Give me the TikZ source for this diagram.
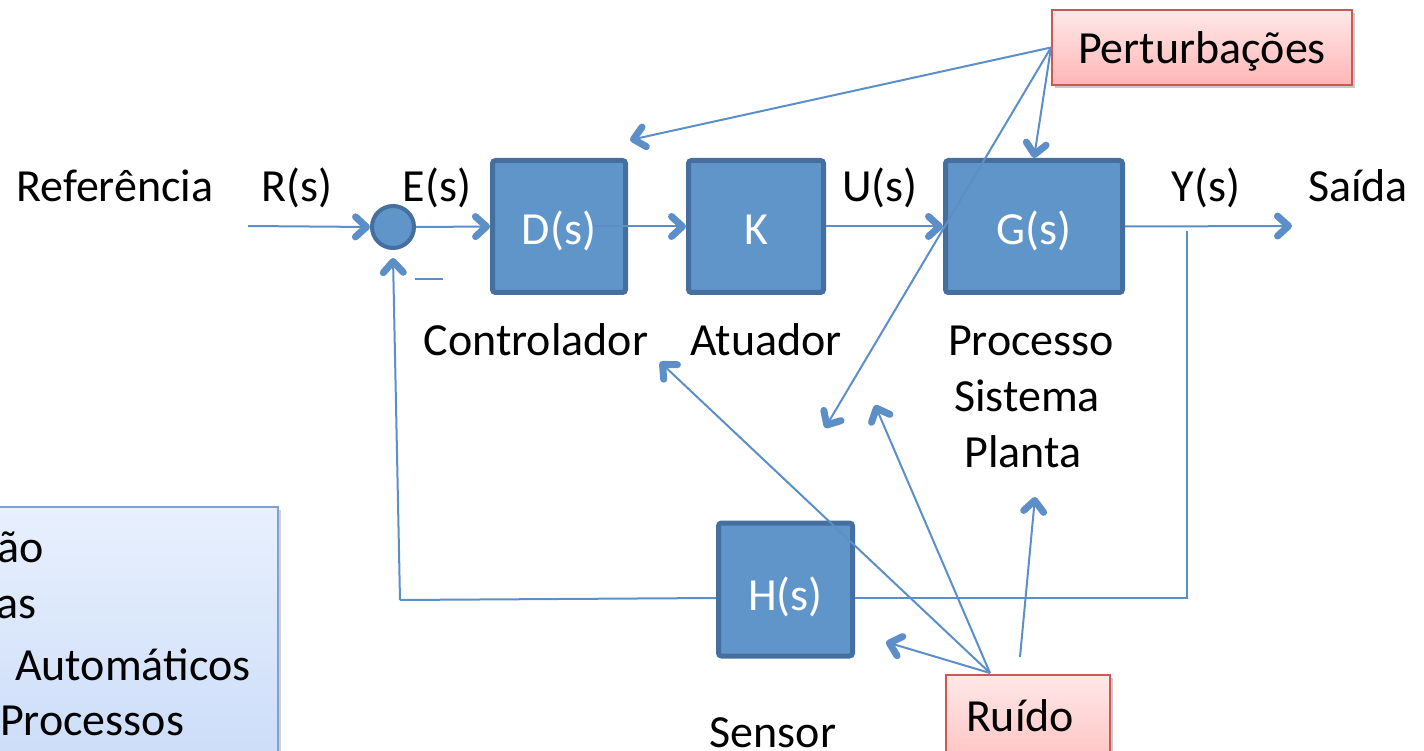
\documentclass[tikz,border=0pt]{standalone}
\usepackage{fontspec}
\setmainfont{Carlito}
\usetikzlibrary{arrows.meta,shadows,calc}
\definecolor{boxfill}{RGB}{96,149,201}
\definecolor{boxedge}{RGB}{69,111,158}
\definecolor{wirecol}{RGB}{92,142,200}
\definecolor{pinkedge}{RGB}{200,90,85}
\definecolor{pinktop}{RGB}{255,232,232}
\definecolor{pinkbot}{RGB}{255,182,182}
\definecolor{bluetop}{RGB}{232,240,253}
\definecolor{bluebot}{RGB}{200,218,248}
\definecolor{blueedge}{RGB}{126,162,212}
\tikzset{
  block/.style={draw=boxedge, line width=5pt, fill=boxfill, rounded corners=3pt,
    text=white, inner sep=0pt, text height=80pt, text depth=43pt},
  summer/.style={circle, draw=boxedge, line width=4pt, fill=boxfill, minimum size=42pt, inner sep=0pt},
  lab/.style={inner sep=0pt, anchor=base},
  wire/.style={draw=wirecol, line width=2pt},
  arr/.style={wire, -{Straight Barb[length=11pt,width=20pt,line width'=7pt,round]}},
  tag/.style={draw=pinkedge, line width=2pt, top color=pinktop, bottom color=pinkbot,
    inner ysep=0pt, anchor=north west,
    drop shadow={shadow xshift=3pt, shadow yshift=-3pt, opacity=.35, fill=black!60}},
}
\begin{document}
\begin{tikzpicture}[x=1pt, y=-1pt, font=\fontsize{46}{52}\selectfont]
\useasboundingbox (0,0) rectangle (1424,751);

% note box at the lower left
\path[draw=blueedge, line width=2pt, top color=bluetop, bottom color=bluebot,
  drop shadow={shadow xshift=3pt, shadow yshift=-3pt, opacity=.3, fill=black!60}]
  (-20,507) rectangle (278,800);
\node[lab, anchor=base east] (n1) at (44,562) {ão};
\node[lab, anchor=base east] (n2) at (37,618) {as};
\node[lab, anchor=base west] (n3) at (15,680) {Automáticos};
\node[lab, anchor=base west] (n4) at (0,735) {Processos};

% blocks of the loop
\node[summer] (sum) at (393,227) {};
\node[block, minimum width=133pt, minimum height=132pt] (D) at (559,226.5) {D(s)};
\node[block, minimum width=135pt, minimum height=132pt] (K) at (756,226.5) {K};
\node[block, minimum width=177pt, minimum height=132pt] (G) at (1034,226.5) {G(s)};
\node[block, minimum width=134pt, minimum height=133pt, text depth=39pt] (H) at (785.5,589.5) {H(s)};

% disturbance and noise sources
\node[tag, minimum width=300pt, text height=54pt, text depth=21pt] (pert) at (1051,9) {Perturbações};
\node[tag, text width=124pt, inner xsep=20pt, align=left, text height=56pt, text depth=60pt] (ruido) at (945,674) {Ruído};

% signal labels
\node[lab] (ref) at (115,202) {Referência};
\node[lab] (R) at (297,202) {R(s)};
\node[lab] (E) at (437,202) {E(s)};
\node[lab] (U) at (880,202) {U(s)};
\node[lab] (Y) at (1206,202) {Y(s)};
\node[lab] (saida) at (1358,202) {Saída};

% block captions
\node[lab] (ctrl) at (536,355) {Controlador};
\node[lab] (atu) at (766,355) {Atuador};
\node[lab] (proc) at (1031,355) {Processo};
\node[lab] (sist) at (1027,411) {Sistema};
\node[lab] (plan) at (1023,467) {Planta};
\node[lab] (sens) at (773,747) {Sensor};

% free ends
\coordinate (in) at (248,226);
\coordinate (out) at (1292,226);
\coordinate (br) at (1187,231);
\coordinate (brd) at (1187,598);
\coordinate (fb) at (400,600);
\coordinate (p1) at (630,140);
\coordinate (p3) at (825,428);
\coordinate (rn) at (990,673);
\coordinate (rs) at (1020,657);
\coordinate (q1) at (660,362);
\coordinate (q2) at (875,405);
\coordinate (q3) at (886,642);
\coordinate (q4) at (1035,497);

% forward path
\draw[arr] (in) -- (sum.west);
\draw[arr] (sum.east) -- (D.west);
\draw[arr] ([xshift=-35pt]D.east) -- (K.west);
\draw[arr] (K.east) -- (G.west);
\draw[arr] (G.east) -- (out);

% feedback path
\draw[wire] (br) -- (brd) -- (H.east |- brd);
\draw[wire] (H.west |- brd) -- (fb);
\draw[arr] (fb) -- ([yshift=-8pt]sum.south);
\draw[wire] (415,279) -- (443,279);

% disturbances
\draw[arr] (pert.west) -- (p1);
\draw[arr] (pert.west) -- (G.north);
\draw[arr] (pert.west) -- (p3);

% noise
\draw[arr] (rn) -- (q1);
\draw[arr] (rn) -- (q2);
\draw[arr] (rn) -- (q3);
\draw[arr] (rs) -- (q4);
\end{tikzpicture}
\end{document}
